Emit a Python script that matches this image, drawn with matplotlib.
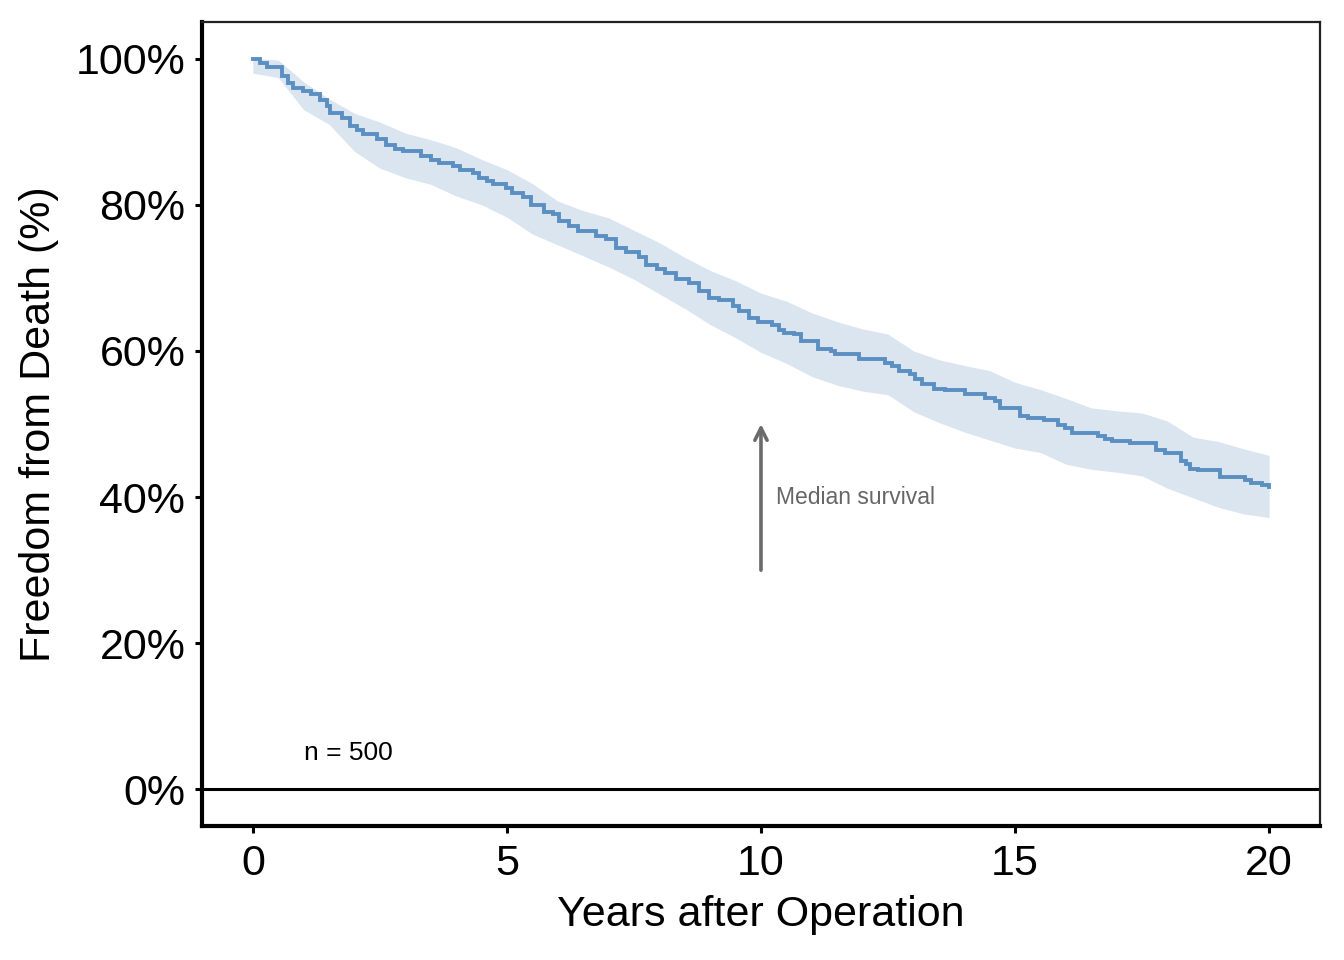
import matplotlib
matplotlib.use("Agg")
import matplotlib.pyplot as plt
from matplotlib.ticker import FuncFormatter

# ---- data ----
km_time = [0, 0.14, 0.27, 0.58, 0.70, 0.79, 0.98, 1.15, 1.32, 1.45, 1.52, 1.75, 1.91, 2.05, 2.17,
           2.45, 2.63, 2.80, 2.95, 3.31, 3.50, 3.67, 3.94, 4.07, 4.33, 4.46, 4.60, 4.72, 4.98,
           5.11, 5.31, 5.47, 5.74, 5.90, 6.03, 6.23, 6.39, 6.75, 6.95, 7.14, 7.34, 7.60, 7.74,
           7.95, 8.12, 8.32, 8.59, 8.78, 8.98, 9.17, 9.44, 9.57, 9.76, 9.95, 10.22, 10.35, 10.45,
           10.65, 10.78, 11.13, 11.37, 11.46, 11.92, 12.45, 12.58, 12.71, 12.94, 13.04, 13.17,
           13.40, 13.63, 14.02, 14.41, 14.61, 14.71, 15.10, 15.26, 15.56, 15.85, 15.99, 16.12,
           16.64, 16.77, 16.90, 17.26, 17.78, 17.95, 18.27, 18.37, 18.44, 18.60, 19.03, 19.52,
           19.65, 19.85, 19.99, 20.0]
km_surv = [100, 99.4, 98.9, 97.6, 96.6, 95.9, 95.5, 95.2, 94.3, 93.5, 92.5, 91.8, 90.8, 90.2, 89.7,
           89.0, 88.2, 87.6, 87.3, 86.6, 86.1, 85.7, 85.3, 84.8, 84.3, 83.7, 83.2, 82.8, 82.3,
           81.6, 81.0, 79.9, 79.0, 78.7, 77.8, 77.1, 76.4, 75.7, 75.3, 74.1, 73.5, 72.9, 71.8,
           71.2, 70.7, 69.8, 69.3, 68.2, 67.3, 67.0, 66.2, 65.5, 64.5, 64.0, 63.6, 62.9, 62.5,
           62.3, 61.4, 60.3, 60.0, 59.6, 58.9, 58.3, 58.0, 57.3, 56.9, 56.1, 55.5,
           54.8, 54.6, 54.1, 53.6, 53.1, 52.2, 51.1, 50.8, 50.5, 49.9, 49.5, 48.8,
           48.3, 48.0, 47.7, 47.4, 46.4, 46.0, 44.9, 44.5, 43.9, 43.7, 42.8, 42.4,
           41.9, 41.7, 41.4, 41.4]

band_time = [0, 0.5, 1, 1.5, 2, 2.5, 3, 3.5, 4, 4.5, 5, 5.5, 6, 6.5, 7, 7.5, 8, 8.5, 9, 9.5, 10,
             10.5, 11, 11.5, 12, 12.5, 13, 13.5, 14, 14.5, 15, 15.5, 16, 16.5, 17, 17.5, 18,
             18.5, 19, 19.5, 20]
band_upper = [100, 99.8, 96.8, 94.5, 92.5, 91.3, 89.8, 88.9, 87.8, 86.2, 84.8, 82.9, 80.5, 79.2,
              78.2, 76.5, 74.8, 72.8, 71.0, 69.6, 67.9, 66.8, 65.2, 64.0, 63.0, 62.3, 60.0, 58.8,
              58.0, 57.3, 55.7, 54.7, 53.5, 52.2, 51.8, 51.5, 50.4, 48.2, 47.6, 46.6, 45.7]
band_lower = [98.0, 97.4, 93.0, 91.0, 87.3, 85.0, 83.7, 82.8, 81.2, 80.0, 78.3, 76.0, 74.5, 73.0,
              71.5, 69.8, 67.8, 65.8, 63.6, 61.8, 59.8, 58.3, 56.5, 55.3, 54.5, 54.0, 51.7, 50.2,
              48.9, 47.8, 46.7, 46.1, 44.5, 43.8, 43.4, 42.9, 41.2, 39.9, 38.6, 37.7, 37.2]

x_ticks = [0, 5, 10, 15, 20]
y_ticks = [0, 20, 40, 60, 80, 100]
x_label = "Years after Operation"
y_label = "Freedom from Death (%)"
n_text = "n = 500"
median_text = "Median survival"
median_arrow_x = 10
median_arrow_from = 30
median_arrow_to = 50

# ---- plot ----
plt.rcParams['font.family'] = ['Liberation Sans', 'DejaVu Sans']
fig = plt.figure(figsize=(13.44, 9.6), dpi=100)
ax = fig.add_axes([0.1503, 0.1396, 0.9821 - 0.1503, 0.9771 - 0.1396])

ax.fill_between(band_time, band_lower, band_upper, color='#dae5f0', linewidth=0, zorder=1)
ax.step(km_time, km_surv, where='post', color='#5b8fc2', linewidth=2.8, zorder=3,
        solid_joinstyle='miter')

ax.axhline(0, color='black', linewidth=2.2, zorder=2)

ax.annotate('', xy=(median_arrow_x, median_arrow_to), xytext=(median_arrow_x, median_arrow_from),
            arrowprops=dict(arrowstyle='->', color='#6b6b6b', lw=2.6,
                            mutation_scale=22, shrinkA=0, shrinkB=0), zorder=4)
ax.text(10.3, 40, median_text, fontsize=16.5, color='#666666', ha='left', va='center')
ax.text(1.0, 5, n_text, fontsize=19, color='black', ha='left', va='center')

ax.set_xlim(-1, 21)
ax.set_ylim(-5, 105)
ax.set_xticks(x_ticks)
ax.set_yticks(y_ticks)
ax.yaxis.set_major_formatter(FuncFormatter(lambda v, p: f"{int(v)}%"))
ax.tick_params(axis='both', labelsize=31, length=5, width=2.2, color='black')
ax.tick_params(axis='x', pad=8)
ax.tick_params(axis='y', pad=7)

ax.set_xlabel(x_label, fontsize=31, labelpad=8)
ax.set_ylabel(y_label, fontsize=31, labelpad=12)

for side in ['top', 'right']:
    ax.spines[side].set_linewidth(1.6)
    ax.spines[side].set_color('#222222')
for side in ['left', 'bottom']:
    ax.spines[side].set_linewidth(3.0)
    ax.spines[side].set_color('black')

fig.savefig('out.png', dpi=100, facecolor='white')
